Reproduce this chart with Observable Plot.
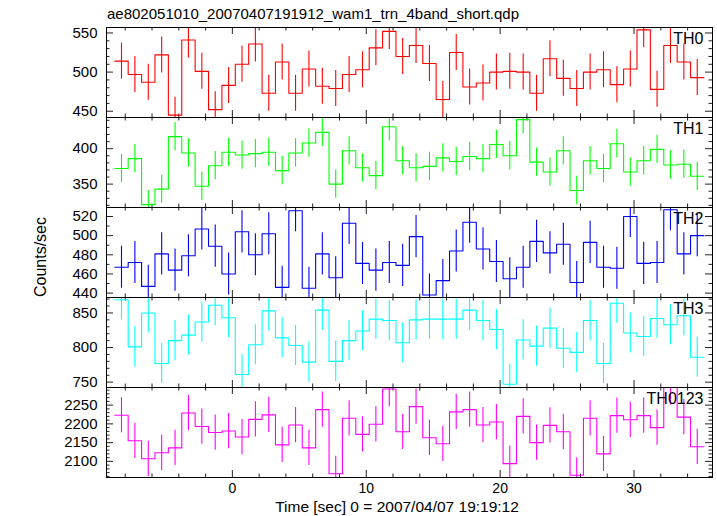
<!DOCTYPE html>
<html><head><meta charset="utf-8">
<script src="https://cdn.jsdelivr.net/npm/d3@7"></script>
<script src="https://cdn.jsdelivr.net/npm/@observablehq/plot@0.6"></script>
<style>
body{margin:0;background:#fff;}
#root{position:relative;width:717px;height:516px;font-family:"Liberation Sans",Arial,Helvetica,sans-serif;color:#000;overflow:hidden;}
.abs{position:absolute;white-space:nowrap;}
#root svg{position:absolute;left:0;}
</style>
</head><body><div id="root"></div>
<script>
// ---- data ----
const titleText = "ae802051010_20070407191912_wam1_trn_4band_short.qdp";
const xLabelText = "Time [sec] 0 = 2007/04/07 19:19:12";
const yLabelText = "Counts/sec";

const binCenters = [-8.28,-7.28,-6.28,-5.28,-4.28,-3.28,-2.28,-1.28,-0.28,0.72,
  1.72,2.72,3.72,4.72,5.72,6.72,7.72,8.72,9.72,10.72,
  11.72,12.72,13.72,14.72,15.72,16.72,17.72,18.72,19.72,20.72,
  21.72,22.72,23.72,24.72,25.72,26.72,27.72,28.72,29.72,30.72,
  31.72,32.72,33.72,34.72];
const binHalfWidth = 0.5;

const th0 = [514,497,487,522,445,541,501,452,483,510,536,473,513,473,504,482,479,497,503,531,552,520,534,511,465,525,481,486,500,501,500,473,517,492,479,500,503,484,504,554,478,534,513,493];
const th1 = [372,386,321,343,417,394,347,376,395,391,393,395,369,394,408,423,350,397,373,362,431,383,373,375,387,382,389,386,406,390,441,381,367,397,341,383,372,407,367,383,399,377,378,361];
const th2 = [467,472,447,481,464,479,507,489,460,504,480,502,446,526,445,481,456,513,471,464,472,469,499,438,453,484,514,486,473,455,467,494,482,491,451,493,467,466,520,471,472,527,481,500];
const th3 = [869,801,850,777,810,818,837,861,843,761,804,853,814,803,779,854,780,810,824,841,839,807,840,841,841,841,854,839,826,747,811,802,828,799,793,839,777,864,821,816,842,833,846,786];
const th0123 = [2223,2155,2107,2123,2136,2229,2193,2177,2181,2165,2212,2224,2144,2197,2136,2238,2067,2215,2172,2199,2293,2179,2246,2163,2147,2232,2238,2197,2205,2094,2220,2150,2196,2179,2063,2215,2120,2222,2211,2222,2190,2297,2218,2139];

// error bar half-widths (counts/sec)
const errTH0 = 23, errTH1 = 20, errTH2 = 22, errTH3 = 29, errTH0123 = 47;

const panelNames = ["TH0","TH1","TH2","TH3","TH0123"];
const panelColors = ["#ff0000","#00ff00","#0000ff","#00ffff","#ff00ff"];

const xDomain = [-9.40, 35.86];
const xMajorTicks = [0,10,20,30];
const xMinorTicks = [-8,-6,-4,-2,2,4,6,8,12,14,16,18,22,24,26,28,32,34];

const yDomainTH0 = [442,557], yMajorTH0 = [450,500,550];
const yDomainTH1 = [317,444], yMajorTH1 = [350,400];
const yDomainTH2 = [435.4,529.4], yMajorTH2 = [440,460,480,500,520];
const yDomainTH3 = [742.3,872.3], yMajorTH3 = [750,800,850];
const yDomainTH0123 = [2057,2297], yMajorTH0123 = [2100,2150,2200,2250];
const yMinorStep = 10;

// ---- layout ----
const W = 717, ML = 106, MR = 5, PH = 90, TOP0 = 27;
const root = document.getElementById("root");

function addText(txt, css){ const d=document.createElement("div"); d.className="abs"; d.textContent=txt; Object.assign(d.style,css); root.appendChild(d); return d; }

addText(titleText,{left:"107px",top:"6px",fontSize:"15px",lineHeight:"15px"});
addText(xLabelText,{left:"397px",top:"499px",fontSize:"15.5px",lineHeight:"15px",transform:"translateX(-50%)"});
addText(yLabelText,{left:"41px",top:"257px",fontSize:"16px",lineHeight:"16px",transform:"translate(-50%,-50%) rotate(-90deg)"});

const panels = [
  {values: th0, err: errTH0, domain: yDomainTH0, major: yMajorTH0},
  {values: th1, err: errTH1, domain: yDomainTH1, major: yMajorTH1},
  {values: th2, err: errTH2, domain: yDomainTH2, major: yMajorTH2},
  {values: th3, err: errTH3, domain: yDomainTH3, major: yMajorTH3},
  {values: th0123, err: errTH0123, domain: yDomainTH0123, major: yMajorTH0123}
];

panels.forEach((p, k) => {
  const last = k === panels.length - 1;
  const color = panelColors[k];
  const yd = p.domain;
  const rows = binCenters.map((t, i) => ({t, v: p.values[i], lo: p.values[i] - p.err, hi: p.values[i] + p.err}));
  const steps = rows.flatMap(r => [{x: r.t - binHalfWidth, y: r.v}, {x: r.t + binHalfWidth, y: r.v}]);
  const yMinor = d3.range(Math.ceil(yd[0] / yMinorStep) * yMinorStep, yd[1], yMinorStep).filter(v => !p.major.includes(v));
  const xPerPx = (xDomain[1] - xDomain[0]) / (W - ML - MR);
  const yPerPx = (yd[1] - yd[0]) / PH;
  const tickCol = "#222";
  const majL = 7, minL = 3.5;
  const marks = [
    Plot.ruleX(xMinorTicks, {x: d => d, y1: yd[0], y2: yd[0] + minL * yPerPx, stroke: tickCol}),
    Plot.ruleX(xMinorTicks, {x: d => d, y1: yd[1], y2: yd[1] - minL * yPerPx, stroke: tickCol}),
    Plot.ruleX(xMajorTicks, {x: d => d, y1: yd[0], y2: yd[0] + majL * yPerPx, stroke: tickCol}),
    Plot.ruleX(xMajorTicks, {x: d => d, y1: yd[1], y2: yd[1] - majL * yPerPx, stroke: tickCol}),
    Plot.ruleY(yMinor, {y: d => d, x1: xDomain[0], x2: xDomain[0] + minL * xPerPx, stroke: tickCol}),
    Plot.ruleY(yMinor, {y: d => d, x1: xDomain[1], x2: xDomain[1] - minL * xPerPx, stroke: tickCol}),
    Plot.ruleY(p.major, {y: d => d, x1: xDomain[0], x2: xDomain[0] + majL * xPerPx, stroke: tickCol}),
    Plot.ruleY(p.major, {y: d => d, x1: xDomain[1], x2: xDomain[1] - majL * xPerPx, stroke: tickCol}),
    Plot.ruleX(rows, {x: "t", y1: "lo", y2: "hi", stroke: color, strokeWidth: 1.1, clip: true}),
    Plot.line(steps, {x: "x", y: "y", stroke: color, strokeWidth: 1.1, clip: true}),
    Plot.frame({stroke: "#000"}),
    Plot.axisY({anchor: "left", ticks: p.major, tickSize: 0, tickPadding: 9, label: null, fontSize: 15, tickFormat: d => String(d)}),
    Plot.text([panelNames[k]], {frameAnchor: "top-right", text: d => d, textAnchor: "end", lineAnchor: "top", dx: -9, dy: 5, fontSize: 16})
  ];
  if (last) marks.push(Plot.axisX({anchor: "bottom", ticks: xMajorTicks, tickSize: 0, tickPadding: 6, label: null, fontSize: 14, tickFormat: d => String(d)}));
  const svg = Plot.plot({
    width: W,
    height: PH + 2 + (last ? 30 : 0),
    marginLeft: ML, marginRight: MR, marginTop: 1, marginBottom: last ? 31 : 1,
    x: last ? {domain: xDomain} : {domain: xDomain, axis: null},
    y: {domain: yd},
    style: {background: "transparent", overflow: "visible", fontFamily: "Liberation Sans, Arial, sans-serif", fontSize: "15px", color: "#000"},
    marks
  });
  svg.style.top = (TOP0 + PH * k - 1) + "px";
  root.appendChild(svg);
});
</script>
</body></html>
